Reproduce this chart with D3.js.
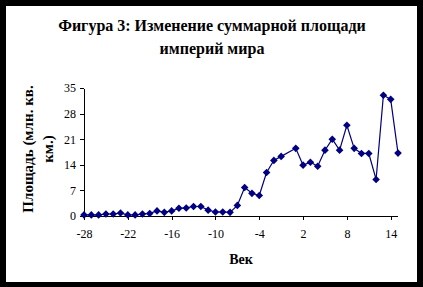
<!DOCTYPE html>
<html>
<head>
<meta charset="utf-8">
<script src="https://cdn.jsdelivr.net/npm/d3@7"></script>
<style>
  body { margin: 0; background: #000; }
  svg { display: block; }
  text { font-family: "Liberation Serif", "Times New Roman", serif; fill: #000; }
</style>
</head>
<body>
<svg class="chart"></svg>
<script>
// centuries (no year 0) and total empire area, mln sq km
var centuries = [-28, -27, -26, -25, -24, -23, -22, -21, -20, -19, -18, -17, -16, -15, -14,
  -13, -12, -11, -10, -9, -8, -7, -6, -5, -4, -3, -2, -1,
  1, 2, 3, 4, 5, 6, 7, 8, 9, 10, 11, 12, 13, 14, 15];
var areas = [0.3, 0.3, 0.3, 0.55, 0.55, 0.8, 0.3, 0.3, 0.55, 0.7, 1.4, 1.0, 1.4, 2.1, 2.2,
  2.6, 2.6, 1.6, 1.1, 1.1, 1.0, 2.9, 7.8, 6.2, 5.6, 11.9, 15.2, 16.3,
  18.5, 13.9, 14.7, 13.6, 18.0, 21.0, 18.0, 24.8, 18.5, 17.1, 17.1, 10.0, 33.0, 31.9, 17.2];
var xTicks = [-28, -22, -16, -10, -4, 2, 8, 14];
var yTicks = [0, 7, 14, 21, 28, 35];
var titleLines = ['Фигура 3: Изменение суммарной площади', 'империй мира'];
var yLabelLines = ['Площадь (млн. кв.', 'км.)'];
var xLabel = 'Век';

var width = 423, height = 287;
var plot = { left: 84, right: 398, top: 88, bottom: 216 };
var navy = '#000080';

var svg = d3.select('.chart')
  .attr('width', width)
  .attr('height', height);

// white page inside black frame
svg.append('rect')
  .attr('x', 6).attr('y', 6)
  .attr('width', 411).attr('height', 276)
  .attr('fill', '#fff');

var x = d3.scaleLinear().domain([-28, 15]).range([plot.left, plot.right]);
var y = d3.scaleLinear().domain([0, 35]).range([plot.bottom, plot.top]);

svg.append('text')
  .attr('text-anchor', 'middle')
  .attr('font-weight', 'bold')
  .attr('font-size', 16)
  .selectAll('tspan')
  .data(titleLines)
  .enter()
  .append('tspan')
  .attr('x', 212)
  .attr('y', function(d, i) { return 31 + i * 23; })
  .text(function(d) { return d; });

// plain hyphen for negatives, like the original
var fmt = function(d) { return String(d); };

var xAxis = svg.append('g')
  .attr('transform', 'translate(0,' + plot.bottom + ')')
  .call(d3.axisBottom(x).tickValues(xTicks).tickFormat(fmt).tickSize(4).tickPadding(9).tickSizeOuter(0));
var yAxis = svg.append('g')
  .attr('transform', 'translate(' + plot.left + ',0)')
  .call(d3.axisLeft(y).tickValues(yTicks).tickFormat(fmt).tickSize(4).tickPadding(4).tickSizeOuter(0));

[xAxis, yAxis].forEach(function(g) {
  g.selectAll('text')
    .attr('font-family', '"Liberation Serif", serif')
    .attr('font-size', 12)
    .attr('fill', '#000');
  g.selectAll('line, path').attr('stroke', '#000').attr('shape-rendering', 'crispEdges');
});
xAxis.select('.domain').attr('d', 'M' + plot.left + ',0.5H' + plot.right);

svg.append('text')
  .attr('x', (plot.left + plot.right) / 2)
  .attr('y', 264)
  .attr('text-anchor', 'middle')
  .attr('font-weight', 'bold')
  .attr('font-size', 14)
  .text(xLabel);

svg.append('text')
  .attr('transform', 'translate(0,149) rotate(-90)')
  .attr('text-anchor', 'middle')
  .attr('font-weight', 'bold')
  .attr('font-size', 15)
  .selectAll('tspan')
  .data(yLabelLines)
  .enter()
  .append('tspan')
  .attr('x', 0)
  .attr('y', function(d, i) { return 33 + i * 20; })
  .text(function(d) { return d; });

var pts = centuries.map(function(c, i) { return [c, areas[i]]; });

svg.append('path')
  .datum(pts)
  .attr('fill', 'none')
  .attr('stroke', navy)
  .attr('stroke-width', 1.2)
  .attr('d', d3.line()
    .x(function(d) { return x(d[0]); })
    .y(function(d) { return y(d[1]); }));

svg.selectAll('.marker')
  .data(pts)
  .enter()
  .append('path')
  .attr('class', 'marker')
  .attr('fill', navy)
  .attr('transform', function(d) { return 'translate(' + x(d[0]) + ',' + y(d[1]) + ')'; })
  .attr('d', 'M0,-3.8L3.8,0L0,3.8L-3.8,0Z');
</script>
</body>
</html>
